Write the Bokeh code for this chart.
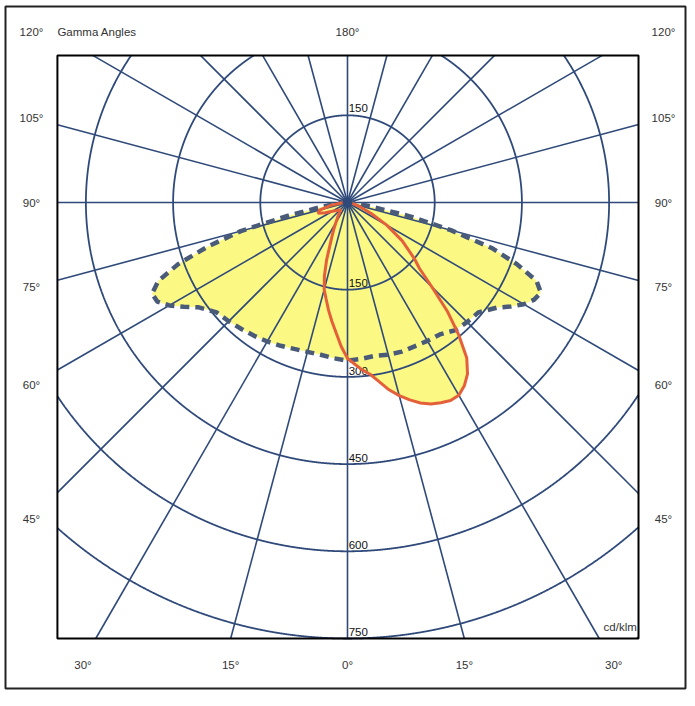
import numpy as np
from bokeh.plotting import figure
from bokeh.models import Range1d
from bokeh.embed import file_html
from bokeh.resources import INLINE
from bokeh.core.properties import value

# ---------------- data (cd/klm) ----------------
# plane drawn dashed (C0 right / C180 left)
gamma_c0 = [0, 5, 10, 15, 20, 25, 30, 35, 40, 45, 50, 55, 57.5, 60, 62.5, 65,
            67.5, 70, 72.5, 75, 77.5, 80, 85, 90]
i_c0 = [272, 270, 268, 271, 273, 273, 275, 277, 287, 291, 294, 315, 333, 350, 362, 367,
        352, 310, 260, 184, 110, 46, 15, 0]
i_c180 = [272, 269, 266, 266, 268, 272, 276, 280, 284, 289, 294, 314, 334, 354, 369, 371,
          352, 310, 252, 190, 103, 50, 18, 0]

# plane drawn solid orange (C90 right / C270 left)
gamma_c90 = [0, 2.5, 5, 7.5, 10, 12.5, 15, 17.5, 20, 22.5, 25, 27.5, 30, 32.5, 35, 37.5,
             40, 42.5, 45, 47.5, 50, 55, 60, 65, 70, 75, 80, 85, 90]
i_c90 = [268, 278, 289, 298, 313, 330, 344, 356, 367, 375, 380, 384, 383, 374, 360, 337,
         298, 255, 205, 168, 150, 115, 78, 45, 25, 13, 7, 3, 0]
i_c270 = [268, 248, 225, 206, 188, 170, 155, 132, 105, 78, 62, 50, 40, 33, 28, 23,
          20, 18, 18, 19, 20, 25, 30, 42, 54, 50, 30, 12, 0]

ring_values = [150, 300, 450, 600, 750, 900]
ring_labels_below = ["150", "300", "450", "600", "750"]
ring_label_above = "150"
grid_angles = list(range(0, 360, 15))
side_angles = [45, 60, 75, 90, 105, 120]
bottom_labels = ["30°", "15°", "0°", "15°", "30°"]
unit_label = "cd/klm"
title_label = "Gamma Angles"
top_label = "180°"

# ---------------- layout ----------------
W, H = 687, 698
S = 436 / 750            # px per cd/klm
CX, CY = 347, 202        # centre in canvas px
FX0, FX1 = -499, 500.6   # inner frame (data units)
FY0, FY1 = -750, 253
OX0, OX1 = (5 - CX) / S, (685 - CX) / S      # outer frame
OY0, OY1 = (CY - 688) / S, (CY - 6) / S
LABEL_X = 543.6
TOP_ROW = 294
BOTTOM_ROW = -796
BOTTOM_X = [-455, -201, 0, 201, 458]

GRID = "#2f4a7a"
YELLOW = "#fbf884"
DASH = "#4a5b7a"
ORANGE = "#e4603a"
TXT = "#333333"
FONT = value("Liberation Sans")

p = figure(width=W, height=H, output_backend="svg", toolbar_location=None,
           x_range=Range1d(-CX / S, (W - CX) / S), y_range=Range1d(-(H - CY) / S, CY / S),
           x_axis_location=None, y_axis_location=None, min_border=0)
p.grid.visible = False
p.outline_line_color = None
p.background_fill_color = "white"
p.border_fill_color = "white"


def poly(g, left, right):
    g = np.radians(np.asarray(g, float))
    left = np.asarray(left, float)
    right = np.asarray(right, float)
    xs = np.concatenate([-(left * np.sin(g))[::-1], right * np.sin(g)])
    ys = np.concatenate([-(left * np.cos(g))[::-1], -right * np.cos(g)])
    return xs, ys


def inside(x, y):
    return (x >= FX0) & (x <= FX1) & (y >= FY0) & (y <= FY1)


dx, dy = poly(gamma_c0, i_c180, i_c0)
ox, oy = poly(gamma_c90, i_c270, i_c90)

# yellow fills
p.patch(dx, dy, fill_color=YELLOW, line_color=None)
p.patch(ox, oy, fill_color=YELLOW, line_color=None)

# radial grid clipped to the inner frame
rx, ry = [], []
for gdeg in grid_angles:
    t = np.radians(gdeg)
    ux, uy = np.sin(t), -np.cos(t)
    cands = []
    if ux > 1e-9: cands.append(FX1 / ux)
    if ux < -1e-9: cands.append(FX0 / ux)
    if uy > 1e-9: cands.append(FY1 / uy)
    if uy < -1e-9: cands.append(FY0 / uy)
    L = min(cands)
    rx.append([0, L * ux]); ry.append([0, L * uy])
p.multi_line(xs=rx, ys=ry, line_color=GRID, line_width=1.6)

# circles clipped to the inner frame
th = np.linspace(0, 2 * np.pi, 5761)
cxs, cys = [], []
for r in ring_values:
    x = r * np.cos(th); y = r * np.sin(th)
    m = inside(x, y)
    x = np.where(m, x, np.nan); y = np.where(m, y, np.nan)
    cxs.append(list(x)); cys.append(list(y))
p.multi_line(xs=cxs, ys=cys, line_color=GRID, line_width=1.8)

p.quad(left=[FX0], right=[FX1], bottom=[FY0], top=[FY1], fill_color=None,
       line_color="black", line_width=2)
p.quad(left=[OX0], right=[OX1], bottom=[OY0], top=[OY1], fill_color=None,
       line_color="#222222", line_width=2)

# ring labels
p.text(x=[2], y=[ring_values[0] + 5], text=[ring_label_above], text_font=FONT,
       text_font_size="11.5px", text_color="#111111", text_baseline="bottom", text_align="left")
p.text(x=[2] * len(ring_labels_below), y=[-v + 4 for v in ring_values[:len(ring_labels_below)]],
       text=ring_labels_below, text_font=FONT, text_font_size="11.5px", text_color="#111111",
       text_baseline="bottom", text_align="left")

# curves
p.line(dx, dy, line_color=DASH, line_width=4.5, line_dash="9 6")
p.line(ox, oy, line_color=ORANGE, line_width=3)
p.scatter(x=[0], y=[0], size=9, color=GRID)

# angle labels
sx, sy, st = [], [], []
for g in side_angles:
    yy = -LABEL_X * np.cos(np.radians(g)) / np.sin(np.radians(g))
    yy = min(yy, TOP_ROW)
    for side in (-1, 1):
        sx.append(side * LABEL_X)
        sy.append(yy)
        st.append(f"{g}°")
sx.append(0); sy.append(TOP_ROW); st.append(top_label)
for lab, xx in zip(bottom_labels, BOTTOM_X):
    sx.append(xx); sy.append(BOTTOM_ROW); st.append(lab)
p.text(x=sx, y=sy, text=st, text_font=FONT, text_font_size="11.5px", text_color=TXT,
       text_align="center", text_baseline="middle")
p.text(x=[FX0], y=[TOP_ROW], text=[title_label], text_font=FONT, text_font_size="11.5px",
       text_color=TXT, text_align="left", text_baseline="middle")
p.text(x=[FX1 - 3], y=[FY0 + 9], text=[unit_label], text_font=FONT, text_font_size="11.5px",
       text_color=TXT, text_align="right", text_baseline="bottom")

open("out.html", "w").write(file_html(p, INLINE))
